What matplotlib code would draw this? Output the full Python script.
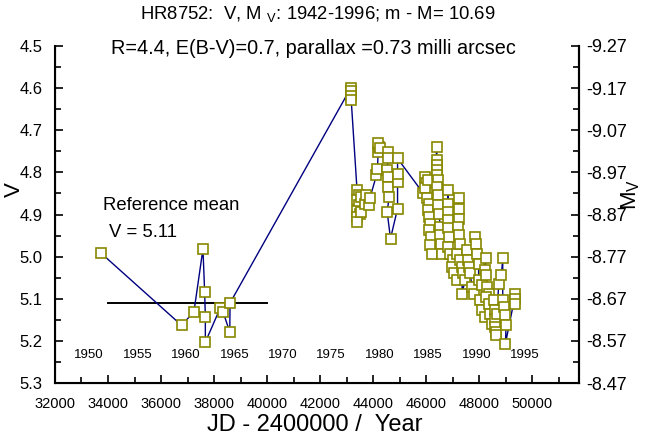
import numpy as np
import matplotlib
matplotlib.use('Agg')
import matplotlib.pyplot as plt
from matplotlib.ticker import MultipleLocator, FixedLocator

plt.rcParams['font.family'] = ['Liberation Sans', 'DejaVu Sans']

############################################################
# data: JD - 2400000 and V magnitude
early_jd = [33742, 36773, 37239, 37580, 37644, 37670, 37670, 38224, 38337, 38591, 38602]
early_v = [4.992, 5.163, 5.131, 4.982, 5.084, 5.143, 5.203, 5.123, 5.131, 5.179, 5.110]

peak_jd = [43150, 43158, 43164, 43170]
peak_v = [4.600, 4.608, 4.618, 4.628]

grp_a_jd = [43390, 43453, 43402, 43453, 43402, 43491, 43402, 43402, 43554, 43554, 43680, 43743, 43832, 43870]
grp_a_v = [4.842, 4.854, 4.866, 4.878, 4.891, 4.898, 4.906, 4.918, 4.894, 4.858, 4.874, 4.854, 4.878, 4.862]

grp_b_jd = [44122, 44160, 44185, 44211, 44185, 44248]
grp_b_v = [4.807, 4.793, 4.751, 4.739, 4.730, 4.743]

grp_c_jd = [44564, 44564, 44526, 44564, 44564, 44602, 44526, 44652]
grp_c_v = [4.751, 4.765, 4.795, 4.811, 4.834, 4.858, 4.894, 4.957]

grp_d_jd = [44918, 44918, 44918, 44918]
grp_d_v = [4.886, 4.822, 4.803, 4.767]

grp_e_jd = [45890, 45954, 45979, 45954, 46055, 46017, 46105, 46055, 46105, 46143,
            46105, 46181, 46143, 46206, 46396, 46396, 46396, 46421, 46396, 46434,
            46396, 46459, 46434, 46484, 46522, 46522, 46560, 46585, 46838, 46812,
            46838, 46812, 46838, 46863, 46838, 46901, 47216, 47216, 47216, 47191, 47241]
grp_e_v = [4.850, 4.811, 4.826, 4.838, 4.818, 4.862, 4.874, 4.890, 4.906, 4.922,
           4.937, 4.953, 4.973, 4.993, 4.739, 4.771, 4.783, 4.795, 4.807, 4.818,
           4.834, 4.854, 4.878, 4.898, 4.929, 4.949, 4.969, 4.993, 4.842, 4.874,
           4.894, 4.914, 4.933, 4.953, 4.977, 4.993, 4.862, 4.886, 4.910, 4.929, 4.949]

grp_f_jd = [47027, 46964, 47065, 47153, 47153, 47280, 47280, 47343, 47368, 47343,
            47469, 47532, 47570, 47595, 47658, 47722, 47785, 47848, 47873, 47911,
            47974, 47974, 48101, 48252, 48227, 48252, 48290, 48353]
grp_f_v = [5.009, 5.024, 5.040, 4.993, 5.056, 4.969, 5.009, 5.024, 5.040, 5.088,
           5.056, 4.985, 5.009, 5.024, 5.040, 5.072, 5.088, 4.953, 4.969, 4.993,
           5.017, 5.056, 5.068, 5.004, 5.032, 5.044, 5.072, 5.088]

grp_g_jd = [48037, 48101, 48202, 48252, 48353, 48416, 48479, 48543, 48606, 48606,
            48606, 48630, 48630, 48669, 48732, 48833, 48884, 48884, 48921, 48985,
            49010, 48985, 49364, 49364, 49364]
grp_g_v = [5.104, 5.127, 5.143, 5.096, 5.112, 5.135, 5.159, 5.104, 5.127, 5.147,
           5.167, 5.179, 5.187, 5.135, 5.064, 5.044, 5.004, 5.104, 5.119, 5.139,
           5.163, 5.207, 5.088, 5.100, 5.112]

ref_mean = 5.11
ref_span = [34000, 40000]
dist_mod = 13.77   # m - M + A_V

years = [1950, 1955, 1960, 1965, 1970, 1975, 1980, 1985, 1990, 1995]

jd = np.concatenate([early_jd, peak_jd, grp_a_jd, grp_b_jd, grp_c_jd,
                     grp_d_jd, grp_e_jd, grp_f_jd, grp_g_jd])
vmag = np.concatenate([early_v, peak_v, grp_a_v, grp_b_v, grp_c_v,
                       grp_d_v, grp_e_v, grp_f_v, grp_g_v])

############################################################
# Plotting
fig = plt.figure(figsize=(6.46, 4.43), dpi=100)
ax = fig.add_axes([0.0851, 0.1354, 0.8112, 0.7608])

ax.plot(jd, vmag, ls='-', lw=1.0, color='#000080', zorder=2)
ax.plot(jd, vmag, ls='none', marker='s', ms=6.8, mew=1.2,
        mfc='white', mec='#888800', zorder=3)

ax.plot(ref_span, [ref_mean, ref_mean], color='k', lw=1.4, zorder=1)
ax.text(33820, 4.878, 'Reference mean', fontsize=13.3, va='center', ha='left')
ax.text(34040, 4.942, 'V = %.2f' % ref_mean, fontsize=13.3, va='center', ha='left')

for yr in years:
    xj = 33282.5 + (yr - 1950) * 365.25
    ax.text(xj, 5.234, str(yr), fontsize=9.5, ha='center', va='center')

ax.set_xlim(32000, 51760)
ax.set_ylim(5.3, 4.5)

ax.xaxis.set_major_locator(MultipleLocator(2000))
ax.xaxis.set_minor_locator(MultipleLocator(1000))
ax.yaxis.set_major_locator(MultipleLocator(0.1))
ax.yaxis.set_minor_locator(MultipleLocator(0.05))
ax.yaxis.set_major_formatter(matplotlib.ticker.FormatStrFormatter('%.1f'))

ax.tick_params(which='both', direction='in', top=False, right=False, width=1.2)
ax.tick_params(which='major', length=6)
ax.tick_params(which='minor', length=4)
ax.tick_params(axis='x', labelsize=10.5, pad=10)
ax.tick_params(axis='y', labelsize=12, pad=9)
ax.spines['top'].set_visible(False)
for s in ['left', 'right', 'bottom']:
    ax.spines[s].set_linewidth(1.5)

ax2 = ax.twinx()
ax2.set_ylim(5.3 - dist_mod, 4.5 - dist_mod)
mticks = [round(4.5 - dist_mod + 0.1 * i, 2) for i in range(9)]
mminor = [round(4.55 - dist_mod + 0.1 * i, 3) for i in range(8)]
ax2.yaxis.set_major_locator(FixedLocator(mticks))
ax2.yaxis.set_minor_locator(FixedLocator(mminor))
ax2.yaxis.set_major_formatter(matplotlib.ticker.FormatStrFormatter('%.2f'))
ax2.tick_params(which='both', direction='in', width=1.2, labelsize=13, pad=5)
ax2.tick_params(which='major', length=6)
ax2.tick_params(which='minor', length=4)
ax2.spines['top'].set_visible(False)
ax2.spines['right'].set_linewidth(1.5)

fig.text(318/646, 1 - 14/443, r'HR8752:  V, M $_{\mathregular{V}}$: 1942-1996; m - M= 10.69',
         fontsize=13.3, ha='center', va='center')
fig.text(313/646, 1 - 48/443, 'R=4.4, E(B-V)=0.7, parallax =0.73 milli arcsec',
         fontsize=14.3, ha='center', va='center')
fig.text(315/646, 1 - 425/443, 'JD - 2400000 /  Year', fontsize=17,
         ha='center', va='center')
fig.text(14/646, 1 - 190/443, 'V', fontsize=16, rotation=90,
         ha='center', va='center')
fig.text(631/646, 1 - 194/443, r'$\mathregular{M_V}$', fontsize=16, rotation=90,
         ha='center', va='center')

plt.savefig('out.png', dpi=100)
